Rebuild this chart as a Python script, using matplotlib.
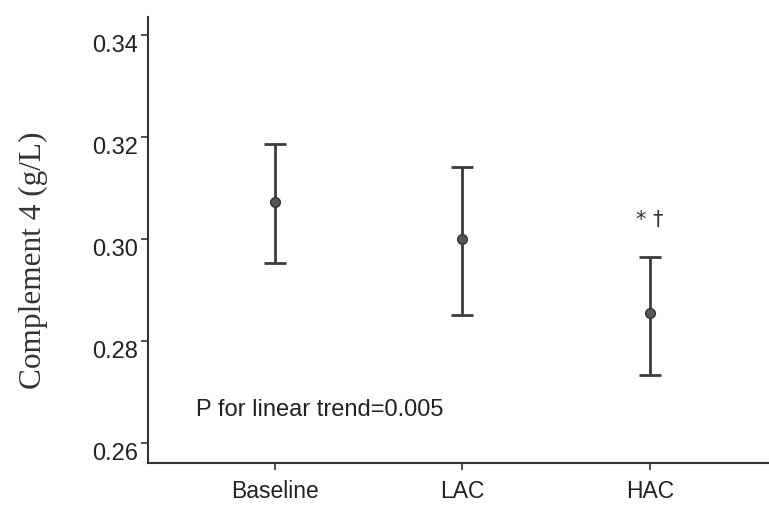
import matplotlib
matplotlib.use("Agg")
import matplotlib.pyplot as plt

categories = ["Baseline", "LAC", "HAC"]
means = [0.3073, 0.3000, 0.2855]
lower = [0.2953, 0.2851, 0.2733]
upper = [0.3186, 0.3141, 0.2965]
yticks = [0.26, 0.28, 0.30, 0.32, 0.34]
ytick_labels = ["0.26", "0.28", "0.30", "0.32", "0.34"]
annotation = "P for linear trend=0.005"
sig_mark = "* \u2020"

fig = plt.figure(figsize=(7.69, 5.08), dpi=100)
ax = fig.add_axes([148/769, 45/508, 620/769, 446/508])

x = [1, 2, 3]
yerr = [[m - l for m, l in zip(means, lower)], [u - m for u, m in zip(upper, means)]]
ax.errorbar(x, means, yerr=yerr, fmt='o', color='#3c3c3c', ecolor='#3c3c3c',
            elinewidth=2, capsize=8, capthick=2, markersize=7,
            markerfacecolor='#555555', markeredgecolor='#333333')

ax.set_xlim(0.323, 3.63)
ax.set_ylim(0.2561, 0.3435)
ax.set_xticks(x)
ax.set_xticklabels(categories, family='Liberation Sans', fontsize=16.5, color='#222222')
ax.set_yticks(yticks)
ax.set_yticklabels(ytick_labels, family='Liberation Sans', fontsize=17, color='#222222',
                   va='top')

for s in ['top', 'right']:
    ax.spines[s].set_visible(False)
for s in ['left', 'bottom']:
    ax.spines[s].set_color('#333333')
    ax.spines[s].set_linewidth(1.5)
ax.tick_params(axis='both', direction='out', length=5, width=1.2, color='#333333')
ax.tick_params(axis='y', pad=2)
ax.tick_params(axis='x', pad=7)

ax.set_ylabel("Complement 4 (g/L)", family='Liberation Serif', fontsize=22.5, color='#333333')
ax.yaxis.set_label_coords(-0.161, 0.455)

ax.text(0.579, 0.2665, annotation, family='Liberation Sans', fontsize=17, color='#222222',
        ha='left', va='center')
ax.text(3.0, 0.3037, sig_mark, family='DejaVu Sans', fontsize=15, color='#333333',
        ha='center', va='center')

fig.savefig("out.png", dpi=100)
